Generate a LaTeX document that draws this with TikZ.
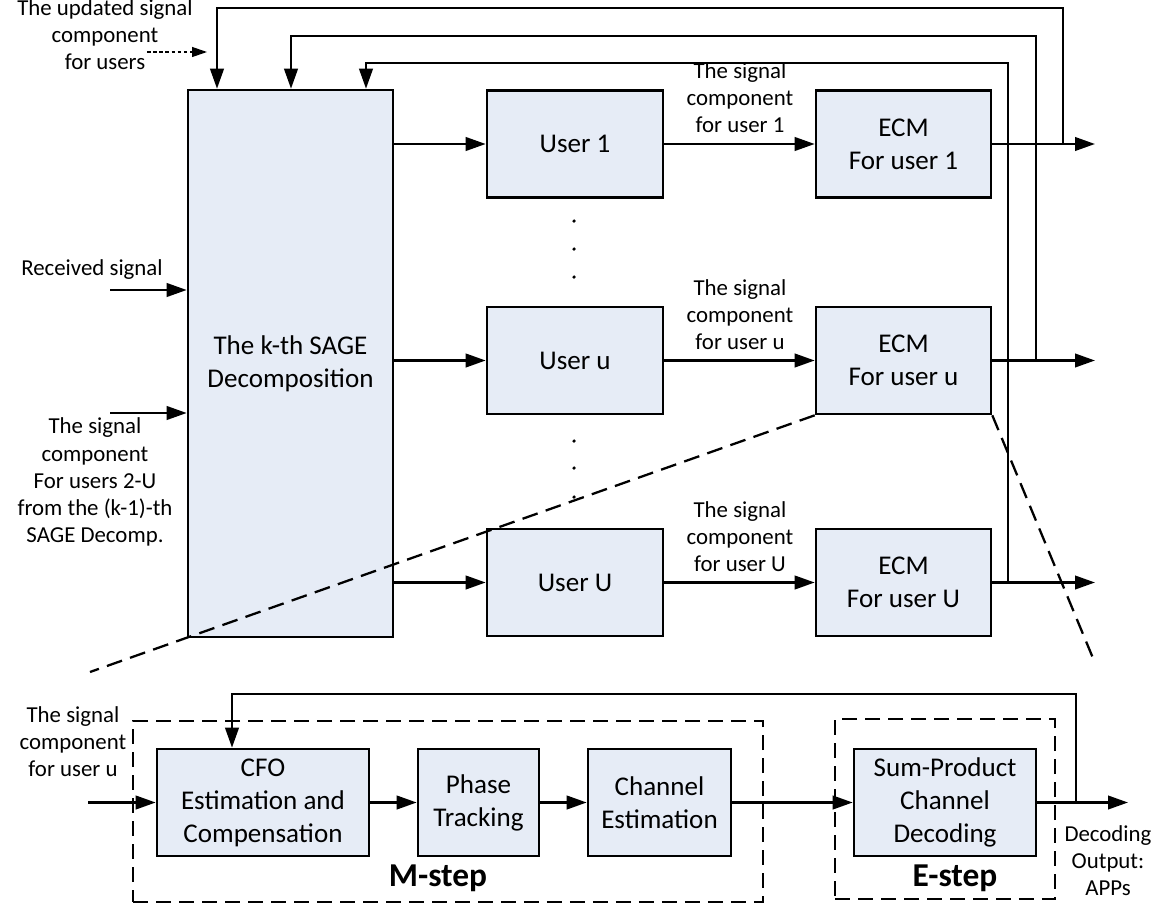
\documentclass[tikz,border=0pt]{standalone}
\usepackage{fontspec}
\setmainfont{Carlito}
\usetikzlibrary{positioning, arrows.meta}
\definecolor{boxfill}{RGB}{230,236,246}
\tikzset{
  block/.style={rectangle, draw=black, fill=boxfill, line width=1.5pt,
    minimum height=2.14cm, align=center, inner sep=0pt,
    font=\fontsize{15.4}{18.8}\selectfont},
  lbl/.style={align=center, inner sep=0pt, font=\fontsize{13}{15.4}\selectfont},
  steplbl/.style={inner sep=0pt, font=\fontsize{19}{22}\selectfont\bfseries},
  frame/.style={rectangle, draw, dash pattern=on 0.3cm off 0.16cm, line width=1.3pt},
  arrow/.style={line width=1.4pt, -{Triangle[length=0.4cm, width=0.27cm]}},
  hint/.style={line width=0.7pt, dash pattern=on 2pt off 1.5pt,
    -{Triangle[length=0.3cm, width=0.2cm]}},
  zoomline/.style={line width=1.3pt, dash pattern=on 0.32cm off 0.17cm},
}

\begin{document}
\begin{tikzpicture}[x=0.02cm, y=-0.02cm]
  \useasboundingbox (0,0) rectangle (1170,909);

  % SAGE stage
  \node[block, minimum width=4.1cm, minimum height=10.94cm] (sage) at (290.5,363.5)
    {The k-th SAGE\\Decomposition};

  \node[block, minimum width=3.52cm] (u1) at (575,144)   {User 1};
  \node[block, minimum width=3.52cm] (uu) at (575,360.5) {User u};
  \node[block, minimum width=3.52cm] (uU) at (575,582.5) {User U};

  \node[block, minimum width=3.5cm] (ecm1) at (903.5,144)   {ECM\\For user 1};
  \node[block, minimum width=3.5cm] (ecmu) at (903.5,360.5) {ECM\\For user u};
  \node[block, minimum width=3.5cm] (ecmU) at (903.5,582.5) {ECM\\For user U};

  \foreach \y in {221,249,277,441,468,497}
    \fill (574,\y) circle[radius=1pt];

  % inputs
  \node[lbl] (rxlbl) at (92,270) {Received signal};
  \coordinate (rx) at (110,290);
  \draw[arrow] (rx) -- (sage.west |- rx);

  \node[lbl] (prevlbl) at (95,482)
    {The signal\\component\\For users 2-U\\from the (k-1)-th\\SAGE Decomp.};
  \coordinate (prev) at (110,413);
  \draw[arrow] (prev) -- (sage.west |- prev);

  \node[lbl] (updlbl) at (105,35) {The updated signal\\component\\for users};
  \coordinate (hintA) at (147,52);
  \coordinate (hintB) at (207,52);
  \draw[hint] (hintA) -- (hintB);

  % user chains
  \foreach \u/\e/\t in {u1/ecm1/1, uu/ecmu/u, uU/ecmU/U}{
    \draw[arrow] (sage.east |- \u.west) -- (\u.west);
    \draw[arrow] (\u.east) -- (\e.west);
    \node[lbl] at ([yshift=0.92cm]\u.east -| 740,0) {The signal\\component\\for user \t};
  }

  \coordinate (out1) at (1095,144);
  \coordinate (outu) at (1095,360.5);
  \coordinate (outU) at (1095,582.5);
  \draw[arrow] (ecm1.east) -- (out1);
  \draw[arrow] (ecmu.east) -- (outu);
  \draw[arrow] (ecmU.east) -- (outU);

  % feedback to SAGE
  \coordinate (fb1) at (1063,144);
  \coordinate (fbu) at (1036,360.5);
  \coordinate (fbU) at (1008,582.5);
  \coordinate (top1) at (217,8);
  \coordinate (top2) at (291,36);
  \coordinate (top3) at (366,63);
  \draw[arrow] (fb1) |- (top1) -- (top1 |- sage.north);
  \draw[arrow] (fbu) |- (top2) -- (top2 |- sage.north);
  \draw[arrow] (fbU) |- (top3) -- (top3 |- sage.north);

  % zoom
  \coordinate (zl) at (90,672);
  \coordinate (zr) at (1095,663);
  \draw[zoomline] (ecmu.south west) -- (zl);
  \draw[zoomline] (ecmu.south east) -- (zr);

  % ECM detail
  \node[frame, minimum width=12.6cm, minimum height=3.62cm] (mstep) at (448,811.5) {};
  \node[frame, minimum width=4.4cm, minimum height=3.6cm] (estep) at (945,809) {};

  \node[block, minimum width=4.24cm] (cfo)   at (263,802.5)   {CFO\\Estimation and\\Compensation};
  \node[block, minimum width=2.42cm] (phase) at (478.5,802.5) {Phase\\Tracking};
  \node[block, minimum width=2.86cm] (chest) at (659.5,802.5) {Channel\\Estimation};
  \node[block, minimum width=3.64cm] (spd)   at (945,802.5)   {Sum-Product\\Channel\\Decoding};

  \node[steplbl] (mlbl) at (438,878) {M-step};
  \node[steplbl] (elbl) at (955,878) {E-step};

  \node[lbl] (uinlbl) at (73,742) {The signal\\component\\for user u};
  \coordinate (uin) at (88,802.5);
  \draw[arrow] (uin) -- (cfo.west);
  \draw[arrow] (cfo) -- (phase);
  \draw[arrow] (phase) -- (chest);
  \draw[arrow] (chest) -- (spd);

  \coordinate (dout) at (1128,802.5);
  \draw[arrow] (spd.east) -- (dout);
  \node[lbl] (doutlbl) at (1108,861) {Decoding\\Output:\\APPs};

  \coordinate (fbd) at (1076,802.5);
  \coordinate (fbdtop) at (232,694);
  \draw[arrow] (fbd) |- (fbdtop) -- (fbdtop |- cfo.north);
\end{tikzpicture}
\end{document}
